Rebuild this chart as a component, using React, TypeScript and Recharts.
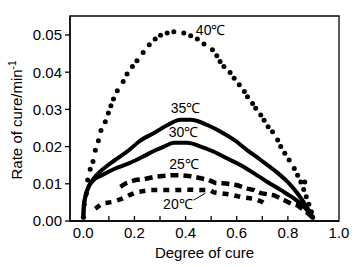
import React from 'react';
import {
  ComposedChart, Line, Scatter, XAxis, YAxis, ReferenceArea, ReferenceDot, ReferenceLine,
} from 'recharts';

// degree of cure vs rate of cure
const curve40 = [
  [0.0, 0.001], [0.004, 0.0045], [0.012, 0.0074], [0.017, 0.011], [0.027, 0.0139],
  [0.038, 0.016], [0.047, 0.019], [0.059, 0.0216], [0.069, 0.0243], [0.086, 0.0267],
  [0.098, 0.029], [0.108, 0.031], [0.118, 0.0328], [0.133, 0.035], [0.156, 0.0375],
  [0.171, 0.0395], [0.192, 0.0415], [0.21, 0.0431], [0.234, 0.0453], [0.258, 0.0474],
  [0.281, 0.0489], [0.302, 0.0499], [0.328, 0.0505], [0.354, 0.0509], [0.393, 0.0505],
  [0.42, 0.0498], [0.446, 0.0489], [0.472, 0.0476], [0.505, 0.046], [0.522, 0.0444],
  [0.535, 0.0429], [0.55, 0.0415], [0.574, 0.0399], [0.59, 0.0384], [0.61, 0.0366],
  [0.63, 0.0348], [0.642, 0.0334], [0.662, 0.0316], [0.674, 0.0303], [0.694, 0.0285],
  [0.707, 0.0271], [0.723, 0.0253], [0.74, 0.024], [0.76, 0.0218], [0.772, 0.02],
  [0.788, 0.0182], [0.805, 0.0164], [0.825, 0.0141], [0.838, 0.0123], [0.851, 0.0105],
  [0.866, 0.0105], [0.862, 0.0085], [0.872, 0.0065], [0.882, 0.0045], [0.892, 0.0025],
  [0.897, 0.001],
];
const curve35 = [
  [0.0, 0.0005], [0.002, 0.004], [0.008, 0.0065], [0.021, 0.0092], [0.04, 0.0114],
  [0.073, 0.0137], [0.125, 0.0164], [0.178, 0.019], [0.217, 0.0213], [0.28, 0.0238],
  [0.33, 0.0258], [0.38, 0.0272], [0.42, 0.0272], [0.485, 0.0258], [0.537, 0.024],
  [0.59, 0.0218], [0.642, 0.019], [0.694, 0.0164], [0.746, 0.0137], [0.799, 0.0105],
  [0.838, 0.0074], [0.87, 0.0042], [0.897, 0.001],
];
const curve30 = [
  [0.0, 0.0005], [0.002, 0.004], [0.008, 0.0065], [0.021, 0.0092], [0.04, 0.011],
  [0.073, 0.0123], [0.125, 0.0141], [0.178, 0.0155], [0.23, 0.0172], [0.282, 0.019],
  [0.315, 0.02], [0.354, 0.021], [0.406, 0.021], [0.459, 0.02], [0.511, 0.0186],
  [0.563, 0.0168], [0.616, 0.015], [0.668, 0.0128], [0.72, 0.0105], [0.773, 0.0083],
  [0.825, 0.006], [0.864, 0.0038], [0.897, 0.001],
];
const curve25 = [
  [0.145, 0.0092], [0.165, 0.0101], [0.204, 0.011], [0.24, 0.0113], [0.282, 0.0119],
  [0.341, 0.0123], [0.38, 0.0123], [0.42, 0.012], [0.446, 0.0117], [0.491, 0.011],
  [0.518, 0.0102], [0.557, 0.0101], [0.603, 0.0096], [0.642, 0.0087], [0.668, 0.0083],
  [0.694, 0.0075], [0.746, 0.0069], [0.786, 0.0056], [0.812, 0.0047], [0.838, 0.0042],
  [0.87, 0.0025], [0.897, 0.001],
];
const curve20 = [
  [0.047, 0.0033], [0.073, 0.0047], [0.112, 0.0051], [0.152, 0.006], [0.178, 0.0069],
  [0.21, 0.0078], [0.263, 0.0083], [0.354, 0.0083], [0.406, 0.0084], [0.497, 0.0083],
  [0.51, 0.0077], [0.576, 0.0071], [0.62, 0.0064], [0.668, 0.006], [0.7, 0.0051],
  [0.72, 0.0042],
];

const xTicks = [0, 0.1, 0.2, 0.3, 0.4, 0.5, 0.6, 0.7, 0.8, 0.9, 1.0];
const yTicks = [0, 0.01, 0.02, 0.03, 0.04, 0.05];
const curveLabels = [
  { x: 0.498, y: 0.0514, text: '40℃' },
  { x: 0.4, y: 0.0304, text: '35℃' },
  { x: 0.392, y: 0.0239, text: '30℃' },
  { x: 0.394, y: 0.0153, text: '25℃' },
  { x: 0.37, y: 0.0045, text: '20℃' },
];

const toPts = (arr: number[][]) => arr.map(([x, y]) => ({ x, y }));

const FONT = '"Liberation Sans", Arial, sans-serif';

function XTick(props: any) {
  const { x, y, payload } = props;
  const v = payload.value;
  const major = Math.round(v * 10) % 2 === 0;
  return (
    <g>
      {v > 0.001 && v < 0.999 && <line x1={x} x2={x} y1={y} y2={y - 5} stroke="#000" strokeWidth={1.3} />}
      {major && (
        <text x={x} y={y + 17} textAnchor="middle" fontSize={15} fontFamily={FONT} fill="#000">
          {v.toFixed(1)}
        </text>
      )}
    </g>
  );
}

export default function App() {
  return (
    <div style={{ position: 'absolute', left: 0, top: 0, width: 357, height: 267, background: '#fff' }}>
      <ComposedChart width={357} height={267} margin={{ top: 16, right: 18, bottom: 0, left: 0 }}>
        <XAxis
          type="number" dataKey="x" domain={[-0.052, 1.0]} ticks={xTicks} allowDataOverflow
          tick={<XTick />} tickLine={false} tickSize={0} tickMargin={0} height={46} interval={0}
          axisLine={{ stroke: '#000', strokeWidth: 1.3 }}
          label={{ value: 'Degree of cure', position: 'insideBottom', offset: 9, fontSize: 15, fontFamily: FONT, fill: '#000' }}
        />
        <YAxis
          type="number" dataKey="y" domain={[0, 0.0551]} ticks={yTicks} allowDataOverflow width={70}
          tickFormatter={(v: number) => v.toFixed(2)} tickSize={5} tickMargin={3}
          tick={{ fontSize: 15, fontFamily: FONT, fill: '#000' }}
          tickLine={{ stroke: '#000', strokeWidth: 1.3 }}
          axisLine={{ stroke: '#000', strokeWidth: 1.3 }}
          label={{
            content: () => (
              <text x={22} y={120} transform="rotate(-90, 22, 120)" textAnchor="middle"
                fontSize={15} fontFamily={FONT} fill="#000">
                Rate of cure/min<tspan fontSize={10} dy={-6}>-1</tspan>
              </text>
            ),
          }}
        />
        <ReferenceArea x1={-0.052} x2={1.0} y1={0} y2={0.0551} fill="none" stroke="#000" strokeWidth={1.3} ifOverflow="visible" />
        <Line data={toPts(curve35)} dataKey="y" type="monotone" stroke="#000" strokeWidth={4} dot={false} isAnimationActive={false} />
        <Line data={toPts(curve30)} dataKey="y" type="monotone" stroke="#000" strokeWidth={4} dot={false} isAnimationActive={false} />
        <Line data={toPts(curve25)} dataKey="y" type="linear" stroke="#000" strokeWidth={4.5} strokeDasharray="8 5" dot={false} isAnimationActive={false} />
        <Line data={toPts(curve20)} dataKey="y" type="linear" stroke="#000" strokeWidth={4.5} strokeDasharray="6 6" dot={false} isAnimationActive={false} />
        <Scatter data={toPts(curve40)} dataKey="y" fill="#000" shape="circle" isAnimationActive={false}
          shape={(p: any) => <circle cx={p.cx} cy={p.cy} r={2.5} fill="#000" />} />
        <ReferenceLine segment={[{ x: 0.431, y: 0.0056 }, { x: 0.478, y: 0.0075 }]} stroke="#000" strokeWidth={1} />
        {curveLabels.map((l) => (
          <ReferenceDot key={l.text} x={l.x} y={l.y} r={0} fill="none" stroke="none"
            label={{ value: l.text, position: 'center', fontSize: 14, fontFamily: FONT, fill: '#000' }} />
        ))}
      </ComposedChart>
    </div>
  );
}
